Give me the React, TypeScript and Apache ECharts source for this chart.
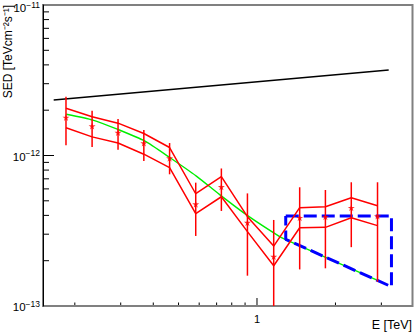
import { useEffect, useRef } from "react";
import * as echarts from "echarts";

// ---- data ----
const energies = [0.185, 0.233, 0.293, 0.368, 0.462, 0.582, 0.73, 0.919, 1.159, 1.458, 1.83, 2.3, 2.9];
const sedPoints = [1.79e-12, 1.57e-12, 1.42e-12, 1.21e-12, 9.6e-13, 4.75e-13, 6.2e-13, 3.58e-13, 2.13e-13, 3.86e-13, 3.92e-13, 4.5e-13, 3.96e-13];
const errHigh = [2.46e-12, 1.98e-12, 1.75e-12, 1.48e-12, 1.21e-12, 6.6e-13, 8.2e-13, 5.6e-13, 3.73e-13, 6.15e-13, 5.9e-13, 6.64e-13, 6.64e-13];
const errLow = [1.17e-12, 1.14e-12, 1.09e-12, 9.2e-13, 7.5e-13, 2.92e-13, 4.28e-13, 1.59e-13, 1.0e-13, 1.75e-13, 1.78e-13, 2.46e-13, 1.45e-13];
const bandUpper = [2.06e-12, 1.81e-12, 1.64e-12, 1.4e-12, 1.13e-12, 5.57e-13, 7.23e-13, 3.92e-13, 2.5e-13, 4.5e-13, 4.57e-13, 5.24e-13, 4.64e-13];
const bandLower = [1.53e-12, 1.33e-12, 1.21e-12, 1.02e-12, 8.3e-13, 4.11e-13, 5.32e-13, 3.12e-13, 1.85e-13, 3.31e-13, 3.33e-13, 3.86e-13, 3.42e-13];

const greenE = [0.1855, 0.2346, 0.2926, 0.3706, 0.4624, 0.5853, 0.719, 0.9236, 1.222, 1.289, 2.873];
const greenSED = [1.88e-12, 1.72e-12, 1.49e-12, 1.25e-12, 9.7e-13, 7.3e-13, 5.5e-13, 3.97e-13, 2.89e-13, 2.76e-13, 1.49e-13];

const blueE = [1.289, 3.28, 3.28, 1.289, 1.289];
const blueSED = [3.96e-13, 3.96e-13, 1.343e-13, 2.775e-13, 3.96e-13];

const blackE = [0.166, 3.2];
const blackSED = [2.34e-12, 3.7e-12];

const xMin = 0.151;
const xMax = 3.95;
const yMin = 1e-13;
const yMax = 1e-11;

const xTickValues = [0.2, 0.3, 0.4, 0.5, 0.6, 0.7, 0.8, 0.9, 1, 2, 3];
const xMajorTicks = [1];
const xTickLabels = ["1"];
const yTickValues = [
  2e-13, 3e-13, 4e-13, 5e-13, 6e-13, 7e-13, 8e-13, 9e-13, 1e-12,
  2e-12, 3e-12, 4e-12, 5e-12, 6e-12, 7e-12, 8e-12, 9e-12,
];
const yMajorTicks = [1e-12];
const yLabelExponents = [-13, -12, -11];

const xTitle = "E [TeV]";
const yTitle = "SED [TeVcm\u207B\u00B2s\u207B\u00B9]";

const FONT = "'Liberation Sans', Arial, Helvetica, sans-serif";
const STAR = "path://M50,0 L61,35 L98,35 L68,57 L79,91 L50,70 L21,91 L32,57 L2,35 L39,35 Z";

const zip = (a: number[], b: number[]) => a.map((v, i) => [v, b[i]]);

export default function App() {
  const ref = useRef<HTMLDivElement>(null);
  useEffect(() => {
    if (!ref.current) return;
    const chart = echarts.init(ref.current, null, { renderer: "svg" });
    const option: any = {
      animation: false,
      backgroundColor: "#ffffff",
      grid: {
        left: 43,
        top: 5,
        width: 369.5,
        height: 301,
        show: true,
        borderColor: "#808080",
        borderWidth: 2,
        backgroundColor: "transparent",
      },
      xAxis: {
        type: "log",
        logBase: 10,
        min: xMin,
        max: xMax,
        axisLine: { show: false },
        axisTick: { show: false },
        axisLabel: { show: false },
        splitLine: { show: false },
      },
      yAxis: {
        type: "log",
        logBase: 10,
        min: yMin,
        max: yMax,
        axisLine: { show: true, lineStyle: { color: "#000", width: 1 } },
        axisTick: { show: false },
        axisLabel: { show: false },
        splitLine: { show: false },
      },
      graphic: [
        {
          type: "text",
          x: 8,
          y: 5,
          rotation: Math.PI / 2,
          style: {
            text: yTitle,
            fill: "#000",
            font: `12px ${FONT}`,
            textAlign: "right",
            textVerticalAlign: "middle",
          },
        },
        {
          type: "text",
          x: 412,
          y: 325,
          style: {
            text: xTitle,
            fill: "#000",
            font: `12.5px ${FONT}`,
            textAlign: "right",
            textVerticalAlign: "middle",
          },
        },
      ],
      series: [
        {
          type: "line",
          data: zip(blackE, blackSED),
          showSymbol: false,
          lineStyle: { color: "#000", width: 1.5 },
          z: 2,
        },
        {
          type: "line",
          data: zip(greenE, greenSED),
          showSymbol: false,
          smooth: 0.2,
          lineStyle: { color: "#00ee00", width: 1.4 },
          z: 3,
        },
        {
          type: "line",
          data: zip(blueE, blueSED),
          showSymbol: false,
          lineStyle: { color: "#0000ff", width: 3, type: [13, 5] },
          z: 4,
        },
        {
          type: "line",
          data: zip(energies, bandUpper),
          showSymbol: false,
          lineStyle: { color: "#ff0000", width: 1.5 },
          z: 5,
        },
        {
          type: "line",
          data: zip(energies, bandLower),
          showSymbol: false,
          lineStyle: { color: "#ff0000", width: 1.5 },
          z: 5,
        },
        {
          type: "custom",
          z: 6,
          clip: true,
          data: energies.map((e, i) => [e, errLow[i], errHigh[i]]),
          renderItem: (_p: any, api: any) => {
            const lo = api.coord([api.value(0), api.value(1)]);
            const hi = api.coord([api.value(0), api.value(2)]);
            return {
              type: "line",
              shape: { x1: lo[0], y1: lo[1], x2: hi[0], y2: hi[1] },
              style: { stroke: "#ff0000", lineWidth: 1.5 },
            };
          },
        },
        {
          type: "scatter",
          data: zip(energies, sedPoints),
          symbol: STAR,
          symbolSize: 7,
          itemStyle: { color: "#ff0000" },
          z: 7,
        },
        // x ticks
        {
          type: "custom",
          z: 8,
          silent: true,
          data: xTickValues.map((v) => [v, yMin]),
          renderItem: (_p: any, api: any) => {
            const v = api.value(0);
            const p = api.coord([v, yMin]);
            const len = xMajorTicks.indexOf(v) >= 0 ? 8 : 3.5;
            return {
              type: "line",
              shape: { x1: p[0], y1: p[1] - 1, x2: p[0], y2: p[1] - len },
              style: { stroke: "#000", lineWidth: 1 },
            };
          },
        },
        // x labels
        {
          type: "custom",
          z: 8,
          silent: true,
          data: xMajorTicks.map((v) => [v, yMin]),
          renderItem: (p: any, api: any) => {
            const c = api.coord([api.value(0), yMin]);
            return {
              type: "text",
              x: c[0],
              y: c[1] + 13,
              style: {
                text: xTickLabels[p.dataIndex],
                fill: "#000",
                font: `11px ${FONT}`,
                textAlign: "center",
                textVerticalAlign: "middle",
              },
            };
          },
        },
        // y ticks
        {
          type: "custom",
          z: 8,
          silent: true,
          data: yTickValues.map((v) => [xMin, v]),
          renderItem: (_p: any, api: any) => {
            const v = api.value(1);
            const p = api.coord([xMin, v]);
            const len = yMajorTicks.some((m) => Math.abs(m - v) / m < 1e-6) ? 11 : 6;
            return {
              type: "line",
              shape: { x1: p[0], y1: p[1], x2: p[0] + len, y2: p[1] },
              style: { stroke: "#000", lineWidth: 1 },
            };
          },
        },
        // y labels
        {
          type: "custom",
          z: 8,
          silent: true,
          data: yLabelExponents.map((e) => [xMin, Math.pow(10, e)]),
          renderItem: (p: any, api: any) => {
            const c = api.coord([xMin, api.value(1)]);
            const ex = yLabelExponents[p.dataIndex];
            return {
              type: "text",
              x: c[0] - 3,
              y: Math.max(c[1] + 1, 8),
              style: {
                text: `{b|10}{s|\u2212${Math.abs(ex)}}`,
                fill: "#000",
                textAlign: "right",
                textVerticalAlign: "middle",
                rich: {
                  b: { fontSize: 11.5, fontFamily: FONT, lineHeight: 16, fill: "#000" },
                  s: { fontSize: 8.5, fontFamily: FONT, verticalAlign: "top", fill: "#000" },
                },
              },
            };
          },
        },
      ],
    };
    chart.setOption(option);
    return () => chart.dispose();
  }, []);
  return (
    <div
      ref={ref}
      style={{ position: "fixed", left: 0, top: 0, width: 414, height: 333, background: "#fff" }}
    />
  );
}
